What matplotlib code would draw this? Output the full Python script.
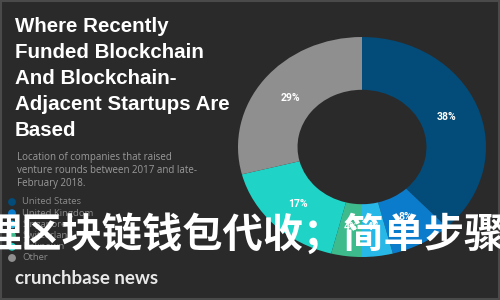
import matplotlib.pyplot as plt
from matplotlib.patches import Rectangle

# data
countries = ["United States", "United Kingdom", "Singapore", "Switzerland", "Unknown", "Other"]
shares = [38, 8, 4, 4, 17, 29]
colors = ["#034b78", "#0b7ccb", "#28b8e8", "#3dbb8c", "#1fd4c7", "#8f8f8f"]

title = "Where Recently\nFunded Blockchain\nAnd Blockchain-\nAdjacent Startups Are\nBased"
subtitle = "Location of companies that raised\nventure rounds between 2017 and late-\nFebruary 2018."
overlay = "理区块链钱包代收；简单步骤"

bg = "#2a2a2a"
fig = plt.figure(figsize=(5, 3), dpi=100, facecolor=bg)

# donut (slightly stretched horizontally like the source image)
cx, cy, rx, ry = 362, 147, 124, 110
ax = fig.add_axes([(cx - rx) / 500, (300 - cy - ry) / 300, 2 * rx / 500, 2 * ry / 300])
ax.set_facecolor(bg)
wedges, texts, pcts = ax.pie(shares, colors=colors, startangle=90, counterclock=False,
                             radius=1, wedgeprops=dict(width=0.48, linewidth=0),
                             autopct="%d%%", pctdistance=0.73,
                             textprops=dict(color="white", fontsize=7.5, fontweight="bold",
                                            family="Roboto"))
ax.set_aspect("auto")
ax.set_xlim(-1, 1)
ax.set_ylim(-1, 1)
ax.axis("off")

# left side text
fig.text(15 / 500, 1 - 17 / 300, title, ha="left", va="top", color="white",
         fontsize=14.8, fontweight="bold", family="Liberation Sans", linespacing=1.46)
fig.text(17 / 500, 1 - 152 / 300, subtitle, ha="left", va="top", color="#9a9a9a",
         fontsize=7, family="Open Sans", linespacing=1.25)

# legend
lax = fig.add_axes([0, 0, 1, 1], facecolor="none")
lax.set_xlim(0, 500)
lax.set_ylim(300, 0)
lax.axis("off")
for i, (name, c) in enumerate(zip(countries, colors)):
    y = 202 + i * 11.2
    lax.scatter(12, y, s=32, color=c, edgecolors="none")
    lax.text(22, y, name, color="#8a8a8a", fontsize=6.8, va="center", family="Open Sans")

lax.text(15, 279, "crunchbase news", color="#e8e8e8", fontsize=13.5, va="center",
         family="Lato", fontweight="bold")

# watermark
lax.text(244, 235, overlay, color="white", fontsize=29, fontweight="bold", ha="center",
         va="center", family=["Noto Sans CJK SC", "DejaVu Sans"])

# frame
lax.add_patch(Rectangle((0.5, 0.5), 498.5, 298.5, fill=False, edgecolor="#4a4a4a", lw=1.5))

fig.savefig("out.png", dpi=100, facecolor=bg)
